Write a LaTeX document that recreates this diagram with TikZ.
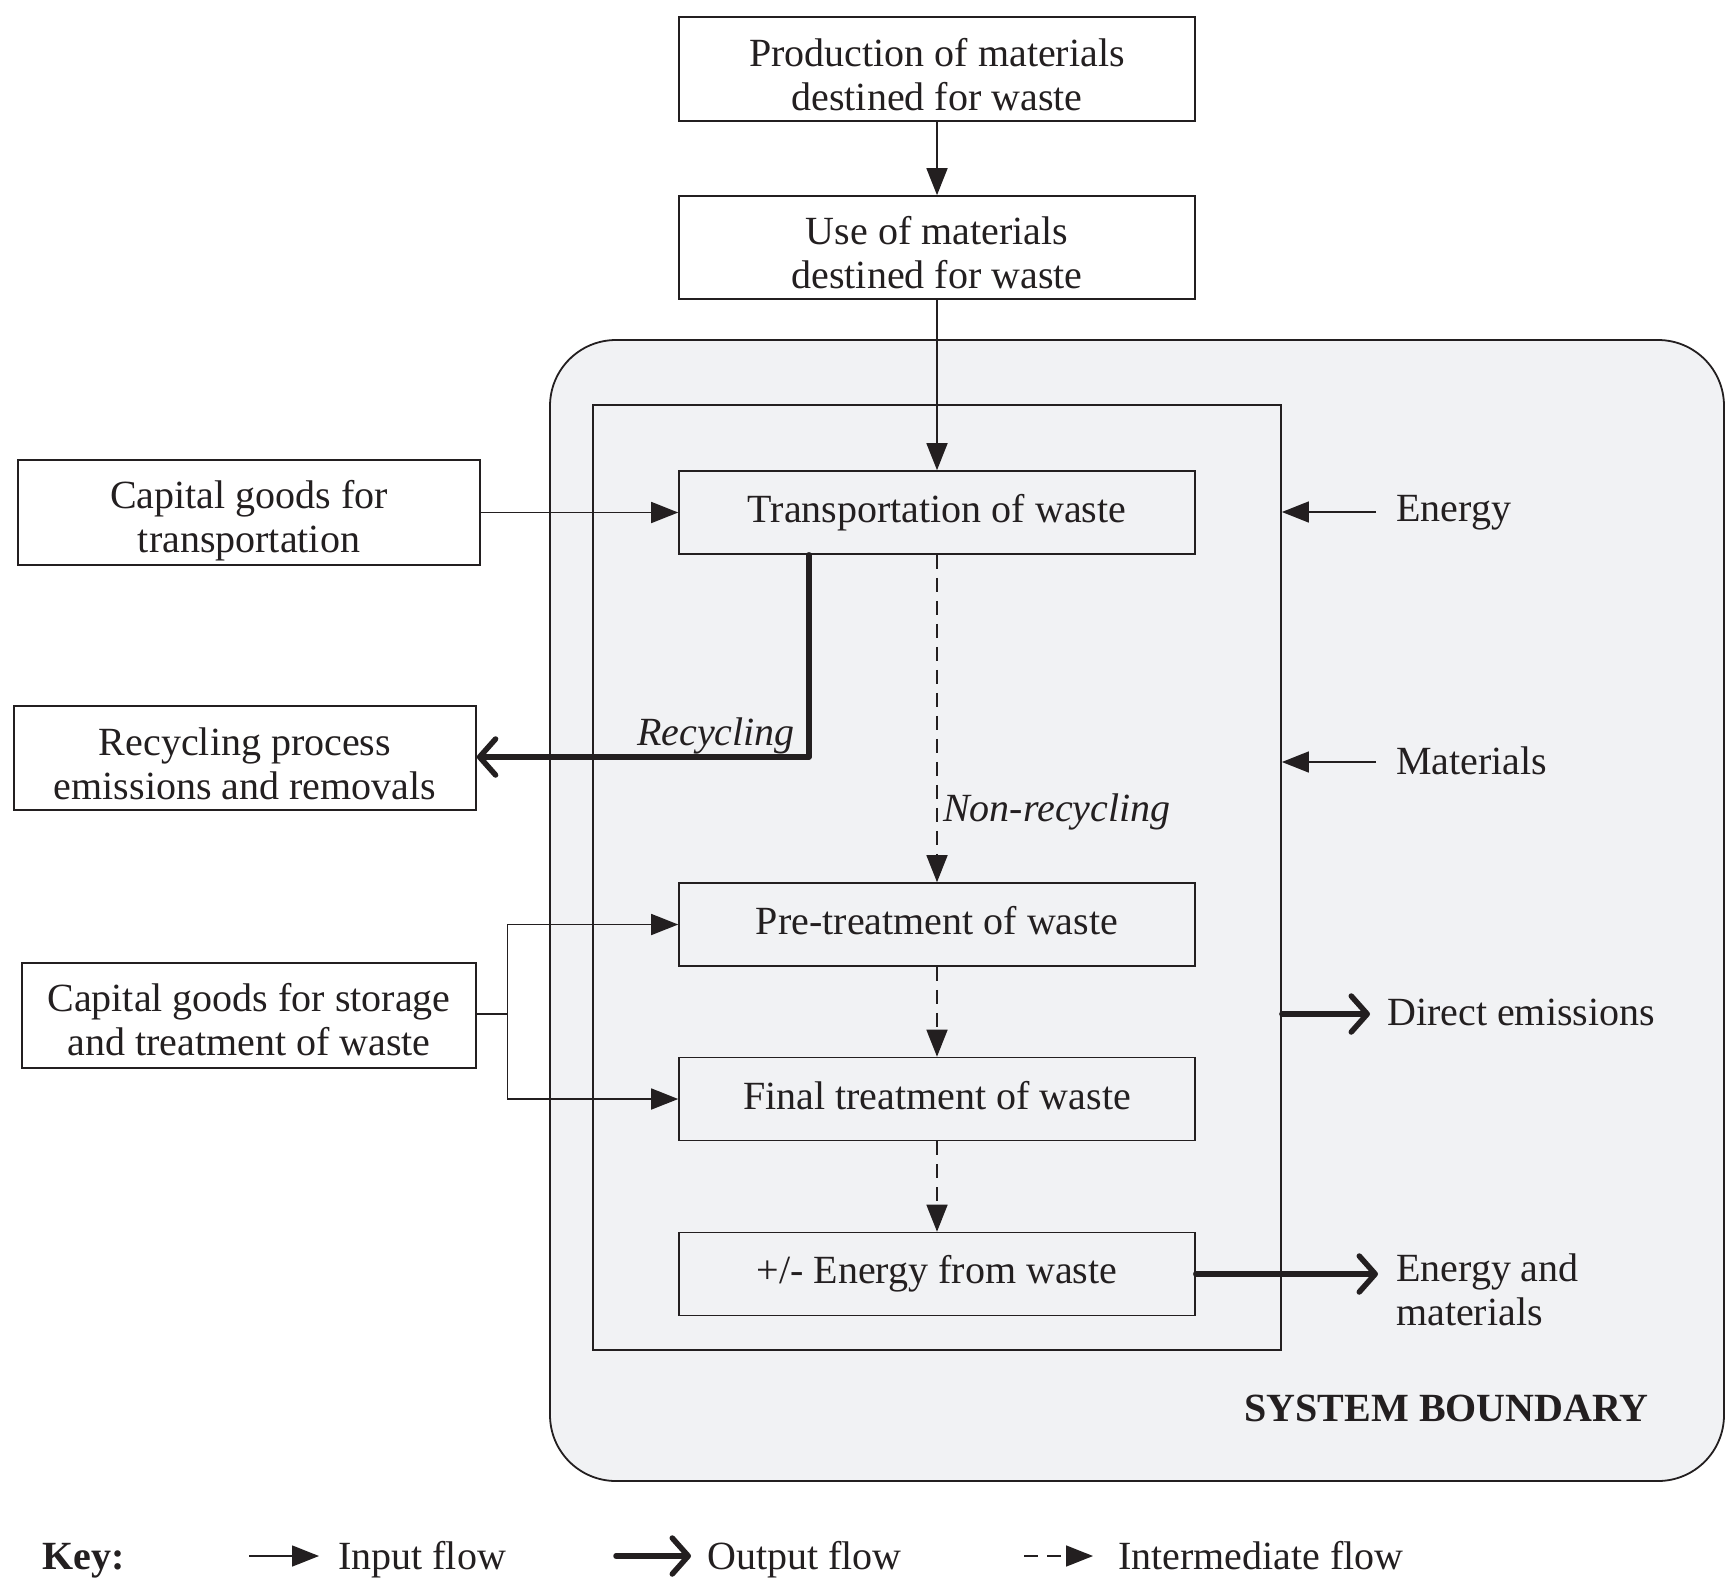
\documentclass[tikz,border=0pt]{standalone}
\usepackage{fontspec}
\setmainfont{Liberation Serif}
\usetikzlibrary{arrows.meta}
\definecolor{ink}{RGB}{35,31,32}
\definecolor{bound}{RGB}{241,242,244}
\newcommand{\bigfont}{\fontsize{40}{44}\selectfont}
\begin{document}
\begin{tikzpicture}[x=1pt,y=-1pt,
  box/.style={draw=ink, line width=1.6pt, fill=white, minimum width=516pt, minimum height=83pt, inner sep=0pt},
  sidebox/.style={box, minimum width=462pt, minimum height=105pt},
  btxt/.style={inner sep=0pt, align=center, font=\bigfont, text=ink},
  lbl/.style={inner sep=0pt, font=\bigfont, text=ink},
  inarrow/.style={draw=ink, line width=1.6pt, -{Triangle[length=27pt,width=21pt]}},
  outarrow/.style={draw=ink, line width=5.5pt, line cap=round, line join=round, -{Straight Barb[length=16pt,width=36pt,round]}},
  midarrow/.style={inarrow, dash pattern=on 14pt off 9pt}]
\useasboundingbox (0,0) rectangle (1726,1579);
\fill[white] (0,0) rectangle (1726,1579);
% system boundary
\node[draw=ink, line width=1.8pt, fill=bound, rounded corners=66pt, minimum width=1174pt, minimum height=1141pt, inner sep=0pt] (sb) at (1137,910.5) {};
\node[draw=ink, line width=1.8pt, minimum width=688pt, minimum height=945pt, inner sep=0pt] (inner) at (937,877.5) {};
\node[lbl, font=\bigfont\bfseries, anchor=base east] (sbl) at (1649,1421) {SYSTEM BOUNDARY};
% boxes
\node[box, minimum height=104pt] (prod) at (937,69) {};
\node[btxt] (prodT) at ([yshift=-5.5pt]prod.center) {Production of materials\\destined for waste};
\node[box, minimum height=103pt] (use) at (937,247.5) {};
\node[btxt] (useT) at ([yshift=-5.5pt]use.center) {Use of materials\\destined for waste};
\node[box, fill=bound] (trans) at (937,512.5) {};
\node[btxt] (transT) at (trans.center) {Transportation of waste};
\node[box, fill=bound] (pre) at (937,924.5) {};
\node[btxt] (preT) at ([yshift=4pt]pre.center) {Pre-treatment of waste};
\node[box, fill=bound] (final) at (937,1099) {};
\node[btxt] (finalT) at ([yshift=3pt]final.center) {Final treatment of waste};
\node[box, fill=bound] (efw) at (937,1274) {};
\node[btxt] (efwT) at (efw.center) {+/- Energy from waste};
\node[sidebox] (capT) at (249,512.5) {};
\node[btxt] (capTT) at ([yshift=-8.5pt]capT.center) {Capital goods for\\transportation};
\node[sidebox, minimum height=104pt] (recy) at (245,758) {};
\node[btxt] (recyT) at ([yshift=-5.5pt]recy.center) {Recycling process\\emissions and removals};
\node[sidebox, minimum width=454pt] (capS) at (249,1015.5) {};
\node[btxt] (capST) at ([yshift=-4.5pt]capS.center) {Capital goods for storage\\and treatment of waste};
% right labels
\node[lbl, anchor=west] (energy) at (1396,513) {Energy};
\node[lbl, anchor=west] (mat) at (1396,761) {Materials};
\node[lbl, anchor=west] (demis) at (1387,1012) {Direct emissions};
\node[lbl, anchor=west, align=left] (eam) at (1396,1290) {Energy and\\materials};
% connectors
\draw[inarrow] (prod.south) -- (use.north);
\draw[inarrow] (use.south) -- (trans.north);
\draw[inarrow] (capT.east) -- (trans.west);
\draw[inarrow] ([xshift=-20pt]energy.west |- 0,512) -- (inner.east |- 0,512);
\draw[inarrow] ([xshift=-20pt]mat.west |- 0,762) -- (inner.east |- 0,762);
\draw[outarrow] (inner.east |- 0,1014) -- ([xshift=-17pt]demis.west |- 0,1014);
\draw[outarrow] (efw.east) -- ([xshift=-18pt]eam.west |- efw.east);
% recycling
\coordinate (rc) at (809,757);
\draw[outarrow] (trans.south -| rc) -- (rc) -- (recy.east |- rc);
\node[lbl, font=\bigfont\itshape, anchor=base east] (rlbl) at (795,745) {Recycling};
% non-recycling
\draw[midarrow] (trans.south) -- (pre.north);
\node[lbl, font=\bigfont\itshape, anchor=west] (nrlbl) at (943,812) {Non-recycling};
\draw[midarrow] (pre.south) -- (final.north);
\draw[midarrow] (final.south) -- (efw.north);
% capital goods storage
\coordinate (cs) at (507.5,1014);
\draw[draw=ink, line width=1.6pt] (capS.east |- cs) -- (cs);
\draw[inarrow] (cs) |- (pre.west);
\draw[inarrow] (cs) |- (final.west);
% key
\node[lbl, font=\bigfont\bfseries, anchor=base west] (key) at (42,1569) {Key:};
\coordinate (k1a) at (249,1556);
\coordinate (k1b) at (319,1556);
\draw[inarrow] (k1a) -- (k1b);
\node[lbl, anchor=base west] (kin) at (338,1569) {Input flow};
\coordinate (k2a) at (616,1556);
\coordinate (k2b) at (691,1556);
\draw[outarrow] (k2a) -- (k2b);
\node[lbl, anchor=base west] (kout) at (707,1569) {Output flow};
\coordinate (k3a) at (1024,1556);
\coordinate (k3b) at (1093,1556);
\draw[midarrow] (k3a) -- (k3b);
\node[lbl, anchor=base west] (kmid) at (1118,1569) {Intermediate flow};
\end{tikzpicture}
\end{document}
